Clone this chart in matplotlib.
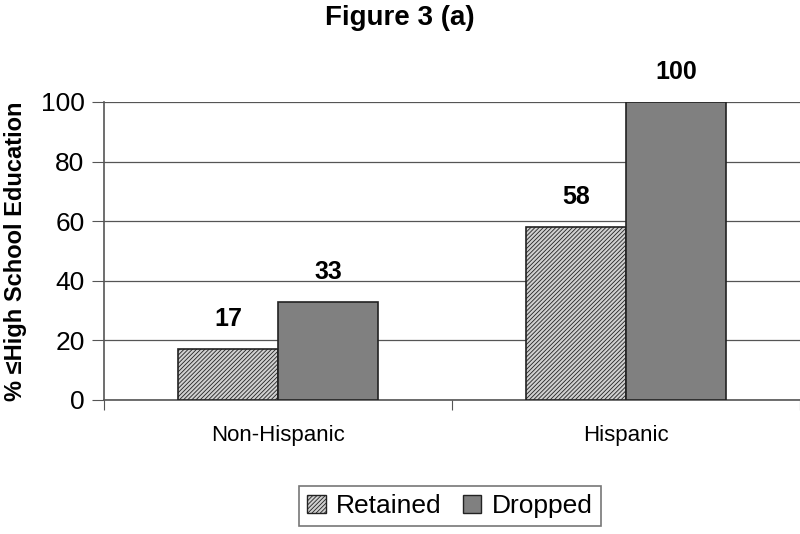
import matplotlib.pyplot as plt
import numpy as np
from matplotlib.patches import Patch

plt.rcParams['font.family'] = ['Liberation Sans', 'DejaVu Sans']
plt.rcParams['hatch.linewidth'] = 0.6
plt.rcParams['hatch.color'] = '#5a5a5a'

groups = ['Non-Hispanic', 'Hispanic']
retained = [17, 58]
dropped = [33, 100]
series_names = ['Retained', 'Dropped']

fig = plt.figure(figsize=(8, 5.34), dpi=100)
ax = fig.add_axes([0.13, 0.251, 0.87, 0.558])

x = np.arange(len(groups))
w = 0.288
hatch = '////////'
b1 = ax.bar(x - w / 2, retained, w, color='#d0d0d0', edgecolor='#222222',
            linewidth=1.2, hatch=hatch, zorder=3)
b2 = ax.bar(x + w / 2, dropped, w, color='#808080', edgecolor='#222222',
            linewidth=1.2, zorder=3)

for bars, vals in ((b1, retained), (b2, dropped)):
    for r, v in zip(bars, vals):
        ax.text(r.get_x() + r.get_width() / 2, v + 6, str(v), ha='center',
                va='bottom', fontsize=18, fontweight='bold')

ax.set_xlim(-0.5, 1.5)
ax.set_ylim(0, 100)
ax.set_yticks(range(0, 101, 20))
ax.yaxis.grid(True, color='#555555', linewidth=0.9, zorder=0)
ax.set_axisbelow(True)
ax.set_xticks([-0.5, 0.5, 1.5])
ax.set_xticklabels([])
ax.set_xticks(x, minor=True)
ax.set_xticklabels(groups, minor=True, fontsize=16)
ax.tick_params(axis='x', which='minor', length=0, pad=18)
ax.tick_params(axis='x', which='major', length=7, direction='out', color='#555555')
ax.tick_params(axis='y', length=9, direction='out', labelsize=19, pad=5, color='#555555')
for s in ('top', 'right'):
    ax.spines[s].set_visible(False)
ax.spines['left'].set_color('#555555')
ax.spines['bottom'].set_color('#555555')
ax.spines['left'].set_linewidth(1.2)
ax.spines['bottom'].set_linewidth(1.2)

ax.set_ylabel('% \u2264High School Education', fontsize=17, fontweight='bold', labelpad=10)
fig.suptitle('Figure 3 (a)', fontsize=20, fontweight='bold', y=0.99)

handles = [Patch(facecolor='#d0d0d0', edgecolor='#222222', hatch=hatch),
           Patch(facecolor='#808080', edgecolor='#222222')]
leg = fig.legend(handles, series_names, loc='center', bbox_to_anchor=(0.5625, 0.052),
                 ncol=2, fontsize=19, frameon=True, fancybox=False, edgecolor='#555555',
                 handlelength=0.7, handleheight=0.7, handletextpad=0.4, columnspacing=0.8,
                 borderpad=0.3)
leg.get_frame().set_linewidth(1.2)

fig.savefig('out.png', dpi=100)
